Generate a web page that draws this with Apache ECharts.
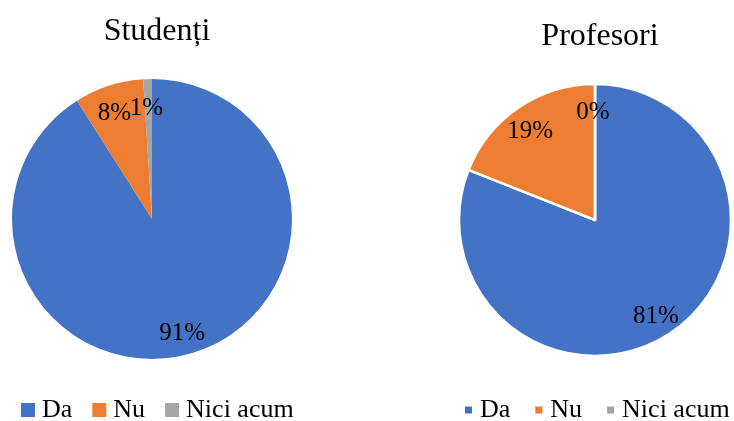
<!DOCTYPE html>
<html>
<head>
<meta charset="utf-8">
<script src="https://cdn.jsdelivr.net/npm/echarts@6/dist/echarts.min.js"></script>
<style>
  html, body { margin: 0; padding: 0; background: #fff; }
  #chart { width: 734px; height: 421px; }
</style>
</head>
<body>
<div id="chart"></div>
<script>
const categories = ['Da', 'Nu', 'Nici acum'];
const studentiValues = [91, 8, 1];
const profesoriValues = [81, 19, 0];
const colors = ['#4472C4', '#ED7D31', '#A5A5A5'];

const font = 'Liberation Serif, Times New Roman, serif';

function toData(values) {
  return categories.map((name, i) => ({ name: name, value: values[i] }));
}

// main pie, no labels
function pieSeries(values, center, radius, border) {
  return {
    type: 'pie',
    center: center,
    radius: radius,
    startAngle: 90,
    clockwise: true,
    data: toData(values),
    label: { show: false },
    labelLine: { show: false },
    itemStyle: { borderColor: '#fff', borderWidth: border },
    emphasis: { disabled: true },
    silent: true,
  };
}

// transparent ring only to put the labels at ~0.8 of radius
function labelSeries(values, center, radius) {
  return {
    type: 'pie',
    center: center,
    radius: [radius * 0.6, radius],
    startAngle: 90,
    clockwise: true,
    data: toData(values),
    itemStyle: { color: 'rgba(0,0,0,0)' },
    label: {
      show: true,
      position: 'inside',
      formatter: '{c}%',
      color: '#000',
      fontFamily: font,
      fontSize: 25,
      offset: [-2, 4],
    },
    labelLine: { show: false },
    labelLayout: { hideOverlap: false },
    emphasis: { disabled: true },
    silent: true,
    avoidLabelOverlap: false,
  };
}

const chart = echarts.init(document.getElementById('chart'));
const option = {
  color: colors,
  animation: false,
  title: [
    {
      text: 'Studenți',
      left: 152,
      top: 11,
      textAlign: 'center',
      textStyle: { fontFamily: font, fontSize: 32, fontWeight: 'normal', color: '#000' },
    },
    {
      text: 'Profesori',
      left: 595,
      top: 16,
      textAlign: 'center',
      textStyle: { fontFamily: font, fontSize: 32, fontWeight: 'normal', color: '#000' },
    },
  ],
  legend: [
    {
      data: categories,
      left: 21,
      top: 397,
      width: 400,
      padding: 0,
      icon: 'rect',
      itemWidth: 14,
      itemHeight: 14,
      itemGap: 20,
      textStyle: { fontFamily: font, fontSize: 26, color: '#000', padding: [0, 0, 0, 2] },
    },
    {
      data: categories,
      left: 465,
      top: 397,
      width: 400,
      padding: 0,
      icon: 'rect',
      itemWidth: 7,
      itemHeight: 7,
      itemGap: 25,
      textStyle: { fontFamily: font, fontSize: 26, color: '#000', padding: [0, 0, 0, 3] },
    },
  ],
  series: [
    pieSeries(studentiValues, [152, 219], 140, 0),
    labelSeries(studentiValues, [152, 219], 140),
    pieSeries(profesoriValues, [595, 220], 136, 2.5),
    labelSeries(profesoriValues, [595, 220], 136),
  ],
};
chart.setOption(option);
</script>
</body>
</html>
